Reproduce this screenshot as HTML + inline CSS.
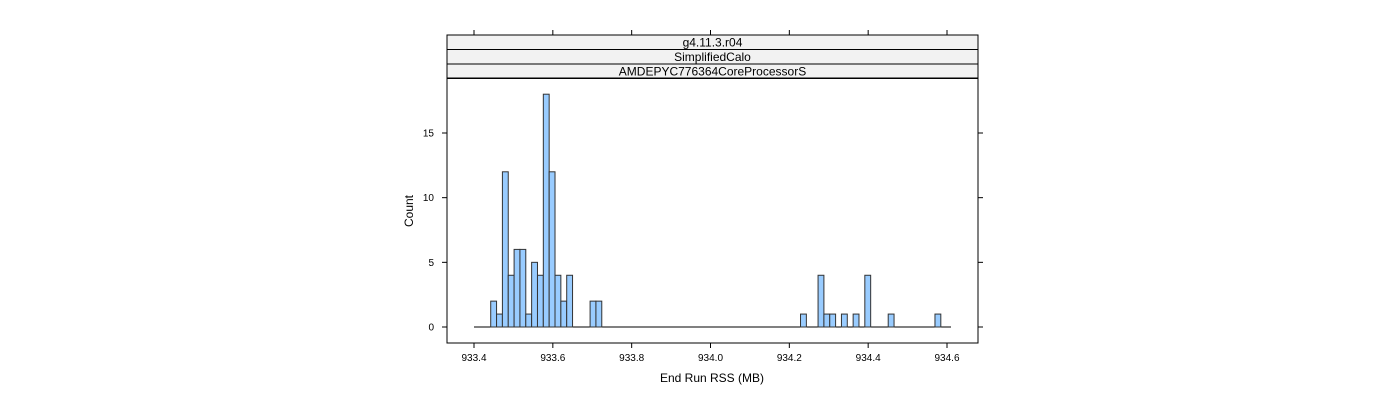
<!DOCTYPE html>
<html><head><meta charset="utf-8"><style>
body{margin:0;background:#fff;}
svg{font-family:"Liberation Sans",sans-serif;}
</style></head><body>
<svg id="c" width="1400" height="400"></svg>
<script>
const xTicks=[933.4,933.6,933.8,934.0,934.2,934.4,934.6];
const xTickLabels=["933.4","933.6","933.8","934.0","934.2","934.4","934.6"];
const yTicks=[0,5,10,15];
const binStart=933.4424;
const binWidth=0.01483;
const counts=[2,1,12,4,6,6,1,5,4,18,12,4,2,4,0,0,0,2,2,
0,0,0,0,0,0,0,0,0,0,0,0,0,0,0,0,0,0,0,0,0,0,0,0,0,0,0,0,0,0,0,0,0,0,
1,0,0,4,1,1,0,1,0,1,0,4,0,0,0,1,0,0,0,0,0,0,0,1];
const strips=["g4.11.3.r04","SimplifiedCalo","AMDEPYC776364CoreProcessorS"];
const NS="http://www.w3.org/2000/svg";
const svg=document.getElementById('c');
const X=v=>474+(v-933.4)*(947-474)/1.2;
const Y=v=>327-v*(327-133)/15;
function el(t,a,p){const e=document.createElementNS(NS,t);for(const k in a)e.setAttribute(k,a[k]);(p||svg).appendChild(e);return e;}
const px0=447,px1=978,py0=78,py1=343;
// strips
strips.forEach((s,i)=>{
 const y=35+i*14.5;
 const r=el('rect',{x:px0,y:y,width:px1-px0,height:14.5,fill:'#f2f2f2',stroke:'#000','stroke-width':1});
 
 
 const t=el('text',{x:(px0+px1)/2,y:y+11.5,'text-anchor':'middle','font-size':12});
 t.textContent=s;
 
 
});
const frame=el('rect',{x:px0,y:py0,width:px1-px0,height:py1-py0,fill:'none',stroke:'#000'});


// baseline
const bl=el('line',{x1:474,x2:951,y1:Y(0),y2:Y(0),stroke:'#000'});


counts.forEach((c,i)=>{
 if(!c)return;
 const a=binStart+i*binWidth;
 const r=el('rect',{x:X(a),y:Y(c),width:X(a+binWidth)-X(a),height:Y(0)-Y(c),fill:'#99ccff',stroke:'#333','stroke-width':1});
 
 
});
xTicks.forEach((v,i)=>{
 const x=X(v);
 el('line',{x1:x,x2:x,y1:py1,y2:py1+5,stroke:'#000'});
 el('line',{x1:x,x2:x,y1:35,y2:30,stroke:'#000'});
 const t=el('text',{x:x,y:361,'text-anchor':'middle','font-size':10});
 t.textContent=xTickLabels[i];
 
 
});
yTicks.forEach(v=>{
 const y=Y(v);
 el('line',{x1:px0,x2:px0-5,y1:y,y2:y,stroke:'#000'});
 el('line',{x1:px1,x2:px1+5,y1:y,y2:y,stroke:'#000'});
 const t=el('text',{x:434,y:y+3.5,'text-anchor':'end','font-size':10});
 t.textContent=v;
 
 
});
const xt=el('text',{x:712,y:382,'text-anchor':'middle','font-size':12});
xt.textContent='End Run RSS (MB)';


const yt=el('text',{x:413,y:211,'text-anchor':'middle','font-size':12,transform:'rotate(-90 413 211)'});
yt.textContent='Count';


</script>
</body></html>
